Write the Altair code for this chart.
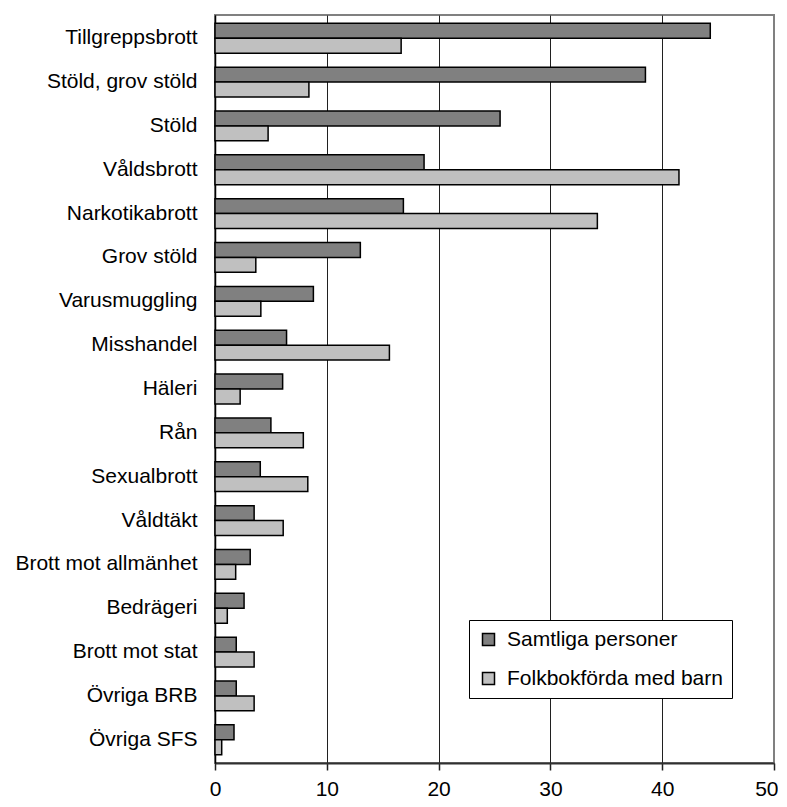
import altair as alt
import pandas as pd

categories = [
    "Tillgreppsbrott", "Stöld, grov stöld", "Stöld", "Våldsbrott", "Narkotikabrott",
    "Grov stöld", "Varusmuggling", "Misshandel", "Häleri", "Rån", "Sexualbrott",
    "Våldtäkt", "Brott mot allmänhet", "Bedrägeri", "Brott mot stat", "Övriga BRB",
    "Övriga SFS",
]
series = ["Samtliga personer", "Folkbokförda med barn"]
samtliga = [44.3, 38.5, 25.5, 18.7, 16.85, 13.0, 8.8, 6.4, 6.05, 5.0, 4.05, 3.5, 3.15, 2.6, 1.9, 1.9, 1.7]
folkbokforda = [16.65, 8.4, 4.75, 41.5, 34.2, 3.65, 4.1, 15.6, 2.25, 7.9, 8.3, 6.1, 1.85, 1.1, 3.5, 3.5, 0.6]
x_ticks = [0, 10, 20, 30, 40, 50]
colors = ["#808080", "#c0c0c0"]

rows = []
for c, a, b in zip(categories, samtliga, folkbokforda):
    rows.append({"kategori": c, "serie": series[0], "varde": a})
    rows.append({"kategori": c, "serie": series[1], "varde": b})
df = pd.DataFrame(rows)

FONT = "Liberation Sans"
FS = 21

chart = alt.Chart(df).mark_bar(stroke="black", strokeWidth=1.5).encode(
    y=alt.Y(
        "kategori:N",
        sort=categories,
        scale=alt.Scale(paddingInner=0.32, paddingOuter=0.19),
        axis=alt.Axis(
            title=None, ticks=False, labelPadding=18, labelFontSize=FS,
            labelFont=FONT, labelColor="black", domainColor="black",
            domainWidth=1.5, labelLimit=400,
        ),
    ),
    yOffset=alt.YOffset("serie:N", sort=series, scale=alt.Scale(paddingInner=0, paddingOuter=0)),
    x=alt.X(
        "varde:Q",
        scale=alt.Scale(domain=[0, 50], nice=False),
        axis=alt.Axis(
            title=None, values=x_ticks, format="d", labelFontSize=FS, labelFont=FONT,
            labelColor="black", tickSize=7, tickColor="#202020", tickWidth=1.5,
            domainColor="#303030", domainWidth=2, labelPadding=8,
            labelAlign=alt.condition("datum.value == 50", alt.value("right"), alt.value("center")),
            labelOffset=alt.condition("datum.value == 50", alt.value(4), alt.value(0)),
            grid=True,
            gridColor=alt.condition("datum.value == 50", alt.value("#808080"), alt.value("#202020")),
            gridWidth=1,
        ),
    ),
    color=alt.Color(
        "serie:N",
        sort=series,
        scale=alt.Scale(domain=series, range=colors),
        legend=alt.Legend(
            title=None, orient="none", legendX=254, legendY=605, padding=9,
            fillColor="white", strokeColor="black", symbolType="square",
            symbolSize=144, symbolStrokeColor="black", symbolStrokeWidth=1.5,
            labelFontSize=FS, labelFont=FONT, labelColor="black", rowPadding=17,
            labelOffset=8, labelLimit=400, symbolOpacity=1,
        ),
    ),
).properties(
    width=559,
    height=748,
    padding={"left": 207, "top": 7, "right": 4, "bottom": 35},
    autosize="none",
).configure_view(
    stroke="#808080", strokeWidth=2
)

chart.save("out.html", embed_options={"renderer": "svg", "actions": False})
